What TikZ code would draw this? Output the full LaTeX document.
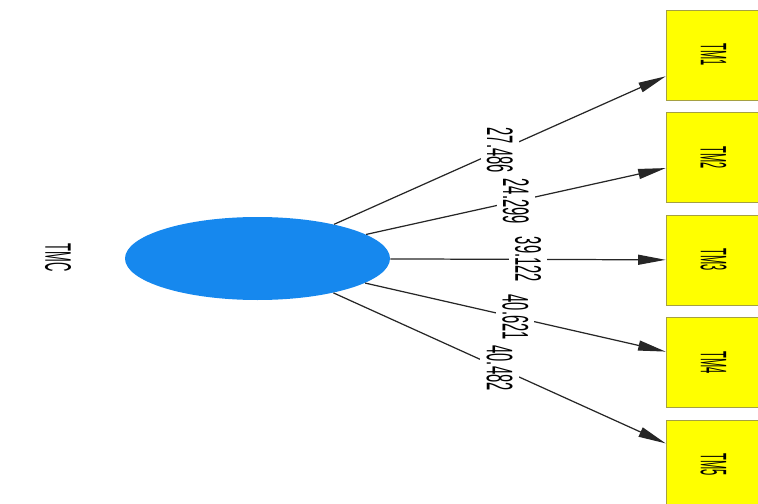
\documentclass[tikz,border=0pt]{standalone}
\usepackage{fontspec}
\setmainfont{Liberation Sans}
\usepackage{graphicx}
\usetikzlibrary{arrows.meta, shapes.geometric}

\definecolor{tmcblue}{RGB}{22,136,238}
\definecolor{tmyellow}{RGB}{255,255,0}
\newcommand{\squeeze}[2][0.35]{\scalebox{#1}[1]{#2}}

\begin{document}
\begin{tikzpicture}[
  ball/.style={ellipse, fill=tmcblue, minimum width=5.3cm, minimum height=1.66cm, inner sep=0pt},
  tmbox/.style={rectangle, draw=yellow!60!black, fill=tmyellow, minimum width=1.8cm, minimum height=1.9cm, rotate=-90, font={\fontsize{21}{22}\selectfont}},
  txt/.style={rotate=-90, font={\fontsize{21}{22}\selectfont}},
  arr/.style={-{Triangle[length=0.55cm, width=0.2cm]}, line width=0.7pt, black!85},
  wlbl/.style={fill=white, rotate=-90, inner sep=0.12cm, text=black, font={\fontsize{21}{22}\selectfont}}]
\useasboundingbox (0,0) rectangle (15.16,-10.08);
\node[txt] (tmclbl) at (1.16,-5.15) {\squeeze{TMC}};
\node[ball] (tmc) at (5.15,-5.17) {};
\node[tmbox] (tm1) at (14.27,-1.10) {\squeeze[0.3]{TM1}};
\node[tmbox] (tm2) at (14.27,-3.15) {\squeeze[0.3]{TM2}};
\node[tmbox] (tm3) at (14.27,-5.20) {\squeeze[0.3]{TM3}};
\node[tmbox] (tm4) at (14.27,-7.25) {\squeeze[0.3]{TM4}};
\node[tmbox] (tm5) at (14.27,-9.30) {\squeeze[0.3]{TM5}};
\draw[arr] (tmc) -- node[wlbl] {\squeeze[0.4]{27.486}} (tm1);
\draw[arr] (tmc) -- node[wlbl] {\squeeze[0.4]{24.299}} (tm2);
\draw[arr] (tmc) -- node[wlbl] {\squeeze[0.4]{39.122}} (tm3);
\draw[arr] (tmc) -- node[wlbl] {\squeeze[0.4]{40.621}} (tm4);
\draw[arr] (tmc) -- node[wlbl] {\squeeze[0.4]{40.482}} (tm5);
\end{tikzpicture}
\end{document}
